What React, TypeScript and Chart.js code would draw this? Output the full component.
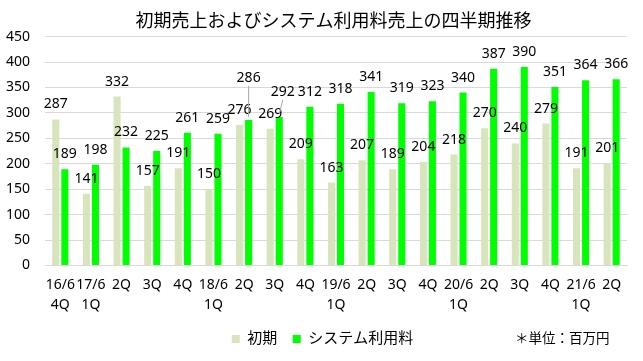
import React, { useEffect, useRef } from "react";
import { Chart, registerables } from "chart.js";

Chart.register(...registerables);

const title = "初期売上およびシステム利用料売上の四半期推移";
const categories: string[][] = [
  ["16/6", "4Q"], ["17/6", "1Q"], ["2Q"], ["3Q"], ["4Q"],
  ["18/6", "1Q"], ["2Q"], ["3Q"], ["4Q"],
  ["19/6", "1Q"], ["2Q"], ["3Q"], ["4Q"],
  ["20/6", "1Q"], ["2Q"], ["3Q"], ["4Q"],
  ["21/6", "1Q"], ["2Q"],
];
const initialLabel = "初期";
const initialSales = [287, 141, 332, 157, 191, 150, 276, 269, 209, 163, 207, 189, 204, 218, 270, 240, 279, 191, 201];
const systemLabel = "システム利用料";
const systemSales = [189, 198, 232, 225, 261, 259, 286, 292, 312, 318, 341, 319, 323, 340, 387, 390, 351, 364, 366];
const yTicks = [0, 50, 100, 150, 200, 250, 300, 350, 400, 450];
const unitNote = "＊単位：百万円";

const FONT = "'Noto Sans', 'Noto Sans CJK JP', sans-serif";

// manual label displacements (dataset index - data index -> [dx, dy])
const labelShift: Record<string, [number, number]> = {
  "1-6": [0, -27],
  "1-7": [3.5, -10],
};

const dataLabelPlugin = {
  id: "dataLabels",
  afterDatasetsDraw(chart: any) {
    const ctx = chart.ctx;
    ctx.save();
    ctx.font = `14px ${FONT}`;
    ctx.fillStyle = "#000";
    ctx.textAlign = "center";
    ctx.textBaseline = "middle";
    chart.data.datasets.forEach((ds: any, di: number) => {
      const meta = chart.getDatasetMeta(di);
      meta.data.forEach((bar: any, i: number) => {
        const shift = labelShift[`${di}-${i}`];
        const dx = shift ? shift[0] : 0;
        const dy = shift ? shift[1] : 0;
        const lx = bar.x + dx;
        const ly = bar.y - 15 + dy;
        if (shift) {
          ctx.save();
          ctx.strokeStyle = "#a6a6a6";
          ctx.lineWidth = 1;
          ctx.beginPath();
          ctx.moveTo(lx, ly + 8);
          ctx.lineTo(bar.x, bar.y - 3);
          ctx.stroke();
          ctx.restore();
        }
        ctx.fillText(String(ds.data[i]), lx, ly);
      });
    });
    ctx.restore();
  },
};

const boxShiftPlugin = {
  id: "boxShift",
  afterLayout(chart: any) {
    const lg = chart.legend;
    if (lg) {
      lg.left += 9;
      lg.right += 9;
      lg.top += 3;
      lg.bottom += 3;
    }
    const tb = chart.titleBlock;
    if (tb) {
      tb.left += 20;
      tb.right += 20;
    }
  },
};

const notePlugin = {
  id: "unitNote",
  afterDraw(chart: any) {
    const ctx = chart.ctx;
    ctx.save();
    ctx.font = `13.5px ${FONT}`;
    ctx.fillStyle = "#000";
    ctx.textAlign = "left";
    ctx.textBaseline = "middle";
    ctx.fillText(unitNote, 515, 339);
    ctx.restore();
  },
};

export default function App() {
  const ref = useRef<HTMLCanvasElement>(null);
  useEffect(() => {
    document.body.style.margin = "0";
    const chart = new Chart(ref.current!, {
      type: "bar",
      data: {
        labels: categories,
        datasets: [
          {
            label: initialLabel,
            data: initialSales,
            backgroundColor: "#d8e4bc",
            categoryPercentage: 0.59,
            barPercentage: 0.78,
          },
          {
            label: systemLabel,
            data: systemSales,
            backgroundColor: "#00ff00",
            categoryPercentage: 0.59,
            barPercentage: 0.78,
          },
        ],
      },
      options: {
        responsive: false,
        animation: false,
        devicePixelRatio: 1,
        layout: { padding: { left: 0, right: 16, top: 0, bottom: 7.5 } },
        plugins: {
          title: {
            display: true,
            text: title,
            color: "#000",
            font: { family: FONT, size: 18, weight: "normal", lineHeight: 1.2 },
            padding: { top: 11, bottom: 4 },
          },
          legend: {
            position: "bottom",
            labels: {
              color: "#000",
              font: { family: FONT, size: 15 },
              boxWidth: 8,
              boxHeight: 8,
              padding: 15.5,
            },
          },
          tooltip: { enabled: false },
        },
        scales: {
          x: {
            grid: { display: false, drawTicks: false },
            border: { display: true, color: "#d9d9d9" },
            ticks: {
              color: "#000",
              font: { family: FONT, size: 14, lineHeight: 1.4 },
              padding: 10,
              maxRotation: 0,
              minRotation: 0,
              autoSkip: false,
            },
            afterFit(scale: any) {
              scale.height = 47.5;
            },
          },
          y: {
            min: 0,
            max: 450,
            afterBuildTicks(scale: any) {
              scale.ticks = yTicks.map((v) => ({ value: v }));
            },
            grid: { color: "#d9d9d9", drawTicks: false },
            border: { display: false },
            ticks: {
              color: "#000",
              font: { family: FONT, size: 14 },
              padding: 15,
            },
            afterFit(scale: any) {
              scale.width = 45;
            },
          },
        },
      },
      plugins: [dataLabelPlugin, boxShiftPlugin, notePlugin],
    });
    return () => chart.destroy();
  }, []);
  return (
    <div style={{ width: 643, height: 361, background: "#fff" }}>
      <canvas ref={ref} width={643} height={361} />
    </div>
  );
}
